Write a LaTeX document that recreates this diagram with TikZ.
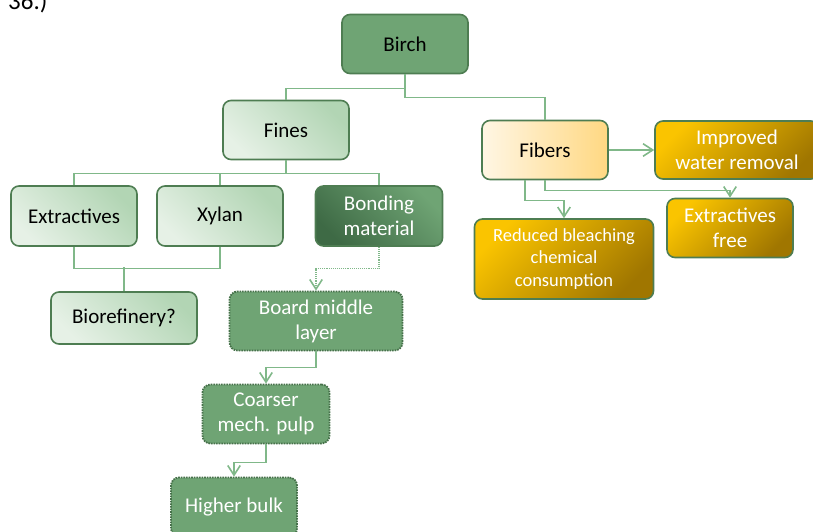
\documentclass[tikz,border=0pt]{standalone}
\usepackage{fontspec}
\setmainfont{Carlito}
\usepackage{xcolor}
\usetikzlibrary{arrows.meta,positioning}
\definecolor{leafGreen}{RGB}{111,164,116}
\definecolor{edgeGreen}{RGB}{78,125,82}
\definecolor{lineGreen}{RGB}{128,184,137}
\definecolor{paleGreen}{RGB}{230,241,230}
\definecolor{mintGreen}{RGB}{178,213,180}
\definecolor{deepGreen}{RGB}{62,106,69}
\definecolor{creamLight}{RGB}{255,246,228}
\definecolor{creamDark}{RGB}{255,216,130}
\definecolor{goldLight}{RGB}{250,196,0}
\definecolor{goldDark}{RGB}{160,118,0}

\begin{document}
\begin{tikzpicture}[
  x=1pt, y=-1pt,
  block/.style={draw=edgeGreen, line width=1.6pt, rounded corners=8pt, minimum height=59pt, minimum width=126pt, align=center, inner sep=2pt, font=\fontsize{21}{25}\selectfont},
  paleblock/.style={block, top color=mintGreen, bottom color=paleGreen, shading angle=-45},
  darkblock/.style={block, top color=leafGreen, bottom color=deepGreen, shading angle=-45, text=white},
  creamblock/.style={block, left color=creamLight, right color=creamDark},
  goldblock/.style={block, top color=goldLight, bottom color=goldDark, shading angle=45, text=white},
  dotblock/.style={block, draw=edgeGreen!90!black, densely dotted, line width=1.8pt, fill=leafGreen, text=white},
  link/.style={draw=lineGreen, line width=1.1pt},
  arrow/.style={link, -{Straight Barb[length=3.4mm, width=4.4mm, line width=1.6pt]}},
  dotarrow/.style={arrow, densely dotted}
]
  \useasboundingbox (0,0) rectangle (813,532);
  \node[anchor=base west, inner sep=0pt, font=\fontsize{25}{30}\selectfont] (fignum) at (8,10) {36.)};

  \node[block, fill=leafGreen] (birch) at (405,44) {Birch};
  \node[paleblock] (fines) at (286,130) {Fines};
  \node[paleblock, minimum height=60pt] (extract) at (74,216) {Extractives};
  \node[paleblock, minimum height=60pt] (xylan) at (220,216) {Xylan};
  \node[darkblock, minimum height=60pt, minimum width=127pt] (bonding) at (379,216) {Bonding\\material};
  \node[paleblock, minimum width=146pt, minimum height=52pt] (biorefinery) at (124,318) {Biorefinery?};

  \node[creamblock] (fibers) at (545,150) {Fibers};
  \node[goldblock, minimum width=164pt, minimum height=58pt] (water) at (737,150) {Improved\\water removal};
  \node[goldblock] (extfree) at (730,228) {Extractives\\free};
  \node[goldblock, minimum width=179pt, minimum height=80pt, font=\fontsize{18.5}{22.5}\selectfont] (bleach) at (564,259) {Reduced bleaching\\chemical\\consumption};

  \node[dotblock, minimum width=173pt] (board) at (316,321) {Board middle\\layer};
  \node[dotblock, minimum width=127pt] (coarser) at (266,414) {Coarser\\mech. pulp};
  \node[dotblock] (bulk) at (234,507) {Higher bulk};

  \draw[link] (birch.south) -- ++(0,14) -| (fines.north);
  \draw[link] (birch.south) -- ++(0,23) -| (fibers.north);
  \draw[link] (fines.south) -- ++(0,13) -| (extract.north);
  \draw[link] (fines.south) -- ++(0,13) -| (xylan.north);
  \draw[link] (fines.south) -- ++(0,13) -| (bonding.north);
  \draw[link] (extract.south) -- ++(0,22) -| (xylan.south);
  \draw[link] (biorefinery.north) -- ++(0,-24);

  \draw[arrow] (fibers.east) -- (water.west);
  \draw[arrow] (fibers.south) -- ++(0,10) -| (extfree.north);
  \draw[arrow] ([xshift=-20pt]fibers.south) -- ++(0,20) -| (bleach.north);

  \draw[dotarrow] (bonding.south) -- ++(0,22) -| (board.north);
  \draw[arrow] (board.south) -- ++(0,16) -| (coarser.north);
  \draw[arrow] (coarser.south) -- ++(0,18) -| (bulk.north);
\end{tikzpicture}
\end{document}
